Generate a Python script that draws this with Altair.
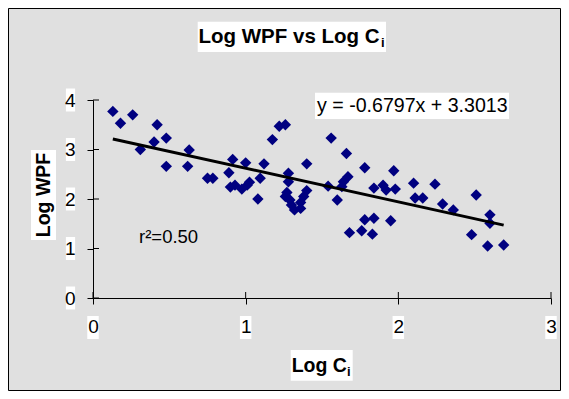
import altair as alt
import pandas as pd

# ---- data ----
log_ci = [0.13, 0.18, 0.26, 0.31, 0.40, 0.42, 0.48, 0.48, 0.63, 0.62,
          0.75, 0.785, 0.89, 0.915, 0.90, 0.93, 0.975, 1.00, 1.01, 1.025,
          1.08, 1.095, 1.12, 1.175, 1.22, 1.26, 1.26, 1.27, 1.28, 1.28,
          1.29, 1.30, 1.32, 1.36, 1.36, 1.38, 1.40, 1.40, 1.54, 1.56,
          1.60, 1.63, 1.64, 1.66, 1.67, 1.68, 1.76, 1.78, 1.78, 1.83,
          1.84, 1.84, 1.90, 1.92, 1.95, 1.97, 1.98, 2.10, 2.11, 2.16,
          2.24, 2.29, 2.36, 2.48, 2.51, 2.585, 2.60, 2.60, 2.69]
log_wpf = [3.77, 3.53, 3.70, 3.00, 3.15, 3.50, 3.23, 2.66, 2.99, 2.66,
           2.42, 2.42, 2.53, 2.80, 2.24, 2.28, 2.20, 2.73, 2.28, 2.34,
           2.00, 2.42, 2.71, 3.20, 3.47, 3.50, 2.05, 2.13, 2.52, 2.35,
           1.98, 1.88, 1.78, 1.81, 1.93, 2.05, 2.17, 2.71, 2.26, 3.23,
           1.98, 2.25, 2.35, 2.92, 2.45, 1.32, 1.36, 2.63, 1.58, 1.29,
           2.22, 1.61, 2.28, 2.18, 1.56, 2.57, 2.20, 2.32, 2.02, 2.02,
           2.30, 1.90, 1.78, 1.28, 2.08, 1.05, 1.68, 1.51, 1.07]
x_ticks = [0, 1, 2, 3]
y_ticks = [0, 1, 2, 3, 4]
slope = -0.6797
intercept = 3.3013
chart_title = "Log WPF vs Log C"
x_title = "Log C"
y_title = "Log WPF"
subscript = "i"
equation = "y = -0.6797x + 3.3013"
r2_label = "r\u00b2=0.50"

FONT = "Liberation Sans"
W, H = 458, 198

pts = pd.DataFrame({"x": log_ci, "y": log_wpf})
one = pd.DataFrame({"a": [0]})
xs = alt.Scale(domain=[0, 3], nice=False)
ys = alt.Scale(domain=[0, 4], nice=False)

axis_common = dict(title=None, grid=False, domainColor="black", domainWidth=1,
                   tickColor="black", tickSize=6, tickWidth=1,
                   labelFont=FONT, labelFontSize=19, labelColor="black",
                   labelOverlap=False, labelFlush=False, zindex=1)
x_axis = alt.Axis(values=x_ticks, labelPadding=13, labelAngle=0, **axis_common)
y_axis = alt.Axis(values=y_ticks, labelPadding=12, **axis_common)


def box(x1, x2, y1, y2, fill="white", stroke=None):
    kw = dict(fill=fill)
    if stroke:
        kw.update(stroke=stroke, strokeWidth=1)
    return alt.Chart(one).mark_rect(**kw).encode(
        x=alt.value(x1), x2=alt.value(x2), y=alt.value(y1), y2=alt.value(y2))


def label(text, x, y, size, bold=False, angle=0, align="left"):
    kw = dict(text=text, font=FONT, fontSize=size, color="black",
              align=align, baseline="alphabetic")
    if bold:
        kw["fontWeight"] = "bold"
    if angle:
        kw["angle"] = angle
    return alt.Chart(one).mark_text(**kw).encode(x=alt.value(x), y=alt.value(y))


border = box(-84.5, 467.5, -91.5, 290.5, fill="transparent", stroke="black")

xbox = alt.Chart(pd.DataFrame({"t": x_ticks})).mark_point(
    shape="M-0.5,-1L0.5,-1L0.5,1L-0.5,1Z", filled=True, fill="white",
    size=529, opacity=1, strokeWidth=0).encode(
    x=alt.X("t:Q", scale=xs, axis=x_axis), y=alt.value(227.5))
ybox = alt.Chart(pd.DataFrame({"t": y_ticks})).mark_point(
    shape="M-0.4,-1L0.4,-1L0.4,1L-0.4,1Z", filled=True, fill="white",
    size=529, opacity=1, strokeWidth=0).encode(
    y=alt.Y("t:Q", scale=ys, axis=y_axis), x=alt.value(-22.5))

xtick_in = alt.Chart(pd.DataFrame({"t": x_ticks})).mark_rule(color="black", strokeWidth=1).encode(
    x=alt.X("t:Q", scale=xs, axis=x_axis), y=alt.value(H - 6), y2=alt.value(H))
ytick_in = alt.Chart(pd.DataFrame({"t": y_ticks})).mark_rule(color="black", strokeWidth=1).encode(
    y=alt.Y("t:Q", scale=ys, axis=y_axis), x=alt.value(0), x2=alt.value(6))

points = alt.Chart(pts).mark_point(
    shape="diamond", filled=True, size=130, color="#000080", opacity=1).encode(
    x=alt.X("x:Q", scale=xs, axis=x_axis),
    y=alt.Y("y:Q", scale=ys, axis=y_axis),
)

trend = alt.Chart(pts).transform_aggregate(
    xmin="min(x)", xmax="max(x)"
).transform_fold(["xmin", "xmax"], as_=["k", "xv"]).transform_calculate(
    yv=f"{slope}*datum.xv+{intercept}"
).mark_line(color="black", strokeWidth=3).encode(
    x=alt.X("xv:Q", scale=xs, axis=x_axis),
    y=alt.Y("yv:Q", scale=ys, axis=y_axis),
)

title_box = box(104.7, 293, -78.3, -48)
title_t = label(chart_title, 105.5, -57.3, 20.5, bold=True)
title_s = label(subscript, 288, -53.5, 13, bold=True)

xt_box = box(197.7, 259.7, 250, 280.7)
xt_t = label(x_title, 198.7, 271.7, 19.5, bold=True)
xt_s = label(subscript, 254, 276, 13, bold=True)

yt_box = box(-62, -37, 50, 140)
yt_t = label(y_title, -43, 95, 19.5, bold=True, angle=270, align="center")

eq_box = box(222, 416, -7.3, 19)
eq_t = label(equation, 224, 11.7, 19.6)

r2_t = label(r2_label, 46, 143.3, 18.5)

chart = alt.layer(
    border, xbox, ybox, xtick_in, ytick_in, points, trend,
    title_box, title_t, title_s, xt_box, xt_t, xt_s, yt_box, yt_t,
    eq_box, eq_t, r2_t,
).properties(
    width=W, height=H,
    autosize=alt.AutoSizeParams(type="none"),
    padding={"left": 85, "top": 92, "right": 10, "bottom": 93},
).configure(background="#e0e0e0").configure_view(stroke="transparent")

chart.save("out.html", embed_options={"renderer": "svg", "actions": False})
